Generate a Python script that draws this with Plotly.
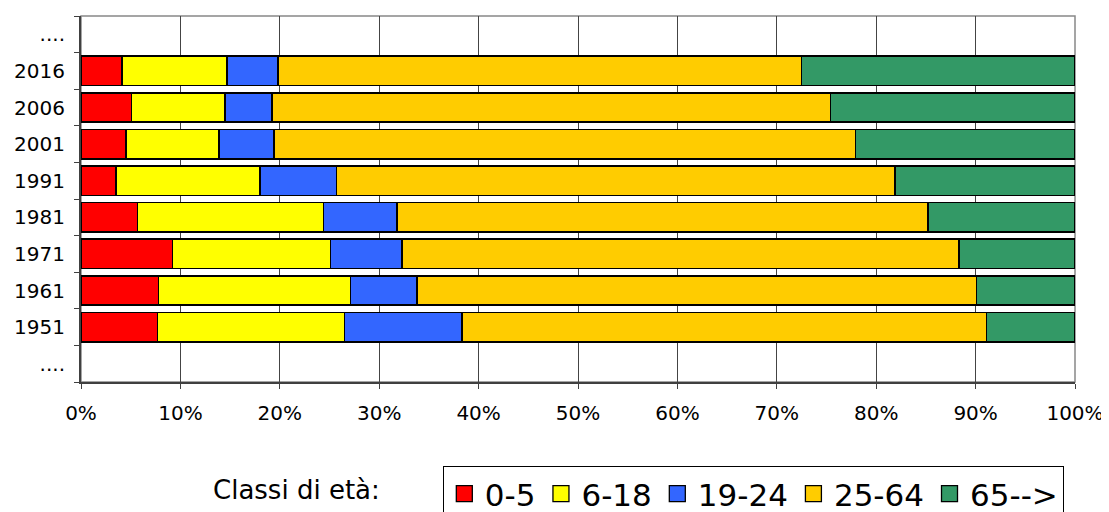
import plotly.graph_objects as go

# Categories, bottom to top (placeholders "...." at both ends)
years = ["lo", "1951", "1961", "1971", "1981", "1991", "2001", "2006", "2016", "hi"]
year_labels = ["....", "1951", "1961", "1971", "1981", "1991", "2001", "2006", "2016", "...."]

classes = ["0-5", "6-18", "19-24", "25-64", "65-->"]
colors = ["#FF0000", "#FFFF00", "#3366FF", "#FFCC00", "#339966"]

# Shares (%) per class, same order as years
v_0_5   = [None, 7.7, 7.8, 9.2, 5.7, 3.5, 4.5, 5.1, 4.1, None]
v_6_18  = [None, 18.8, 19.3, 15.9, 18.7, 14.5, 9.4, 9.4, 10.6, None]
v_19_24 = [None, 11.8, 6.7, 7.2, 7.4, 7.7, 5.5, 4.7, 5.1, None]
v_25_64 = [None, 52.8, 56.3, 56.0, 53.4, 56.2, 58.5, 56.2, 52.7, None]
v_65    = [None, 8.9, 9.9, 11.7, 14.8, 18.1, 22.1, 24.6, 27.5, None]

series = [v_0_5, v_6_18, v_19_24, v_25_64, v_65]

fig = go.Figure()
for name, col, vals in zip(classes, colors, series):
    fig.add_trace(go.Bar(
        y=years,
        x=[None if v is None else v / 100 for v in vals],
        name=name,
        orientation="h",
        marker=dict(color=col, line=dict(color="black", width=1.6)),
        showlegend=False,
    ))
# legend entries with larger square swatches
for name, col in zip(classes, colors):
    fig.add_trace(go.Scatter(
        x=[None], y=[None], mode="markers", name=name,
        marker=dict(symbol="square", size=16, color=col,
                    line=dict(color="black", width=1.3)),
    ))

# page body has an 8px margin; compensate so the plot lands where the reference has it
fig.update_layout(
    barmode="stack",
    bargap=0.2,
    width=1101, height=504,
    margin=dict(l=73, r=34, t=8, b=130, autoexpand=False),
    paper_bgcolor="white",
    plot_bgcolor="white",
    font=dict(family="DejaVu Sans", size=20, color="black"),
    showlegend=True,
    legend=dict(
        orientation="h", traceorder="normal",
        x=0.364, y=-0.2295, xanchor="left", yanchor="top",
        bordercolor="black", borderwidth=1,
        font=dict(size=31),
        itemsizing="trace", itemwidth=31,
        tracegroupgap=0,
    ),
    annotations=[dict(
        text="Classi di età:", xref="paper", yref="paper",
        x=0.1305, y=-0.296, xanchor="left", yanchor="middle",
        showarrow=False, font=dict(size=26),
    )],
    shapes=[dict(
        type="rect", xref="paper", yref="paper", x0=0, y0=0, x1=1, y1=1,
        line=dict(color="#888888", width=1.5), layer="below",
    )],
)

fig.update_xaxes(
    range=[0, 1], dtick=0.1, tickformat=".0%",
    showgrid=True, gridcolor="#444444", gridwidth=1,
    showline=True, linecolor="#404040", linewidth=2,
    ticks="outside", ticklen=5, tickcolor="#404040",
    ticklabelstandoff=7,
    zeroline=False, fixedrange=True, automargin=False,
)
fig.update_yaxes(
    type="category", categoryorder="array", categoryarray=years,
    tickvals=years, ticktext=year_labels,
    range=[-0.5, len(years) - 0.5],
    showgrid=False,
    showline=True, linecolor="#404040", linewidth=2,
    ticks="outside", tickson="boundaries", ticklen=5, tickcolor="#404040",
    ticklabelstandoff=10,
    zeroline=False, fixedrange=True, automargin=False,
)

fig.write_html("out.html")
